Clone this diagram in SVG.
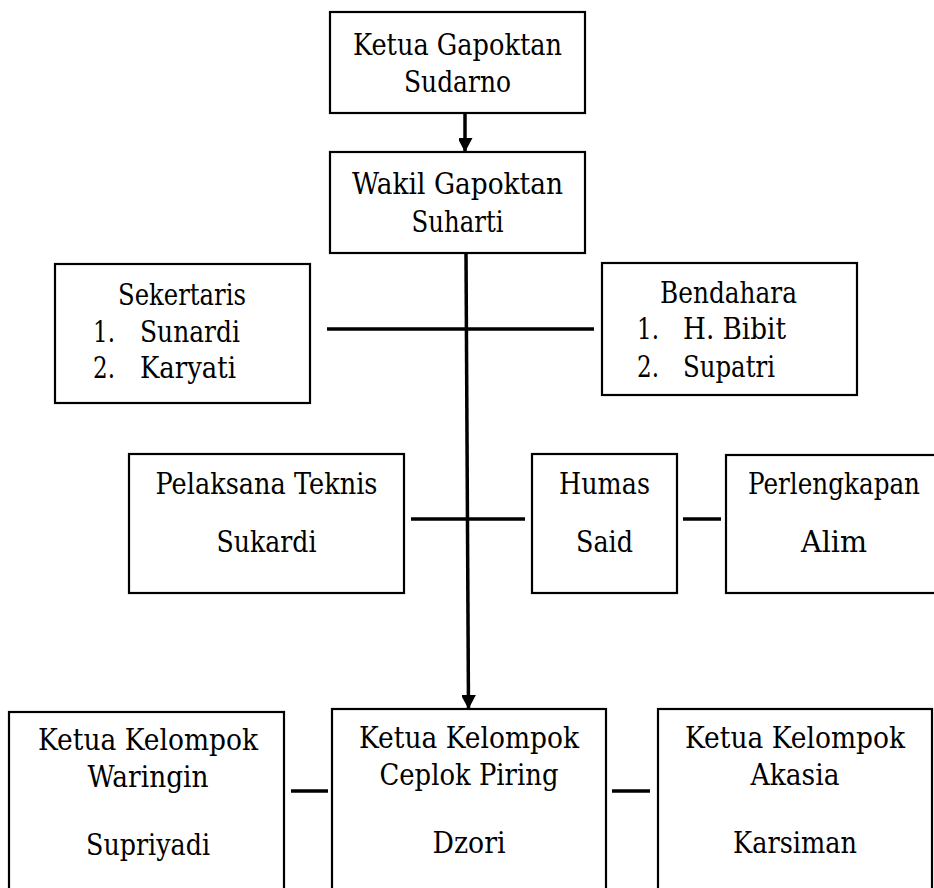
<svg xmlns="http://www.w3.org/2000/svg" width="934" height="888" viewBox="0 0 934 888">
<style>
.box{fill:#fff;stroke:#000;stroke-width:2.2}
.t{font-family:'DejaVu Serif',serif;font-size:29px;fill:#000}
.c{text-anchor:middle}
.ln{stroke:#000;stroke-width:3.5;fill:none}
</style>
<defs>
<marker id="ah" markerWidth="15" markerHeight="14" refX="14" refY="7.5" orient="auto" markerUnits="userSpaceOnUse">
<path d="M0,0 L14,7.5 L0,15 Z" fill="#000"/>
</marker>
</defs>
<rect width="934" height="888" fill="#fff"/>
<g id="connectors">
<line class="ln" x1="465" y1="114" x2="465" y2="152" marker-end="url(#ah)"/>
<line class="ln" x1="466" y1="253" x2="468.5" y2="709" marker-end="url(#ah)"/>
<line class="ln" x1="327" y1="329" x2="594" y2="329"/>
<line class="ln" x1="411" y1="519" x2="525" y2="519"/>
<line class="ln" x1="683" y1="519" x2="721" y2="519"/>
<line class="ln" x1="291" y1="791" x2="328" y2="791"/>
<line class="ln" x1="612" y1="791" x2="650" y2="791"/>
</g>
<g id="ketua">
<rect class="box" x="330" y="12" width="255" height="101"/>
<text class="t c" x="457.5" y="55" textLength="209" lengthAdjust="spacingAndGlyphs">Ketua Gapoktan</text>
<text class="t c" x="457.5" y="92" textLength="107" lengthAdjust="spacingAndGlyphs">Sudarno</text>
</g>
<g id="wakil">
<rect class="box" x="330" y="152" width="255" height="101"/>
<text class="t c" x="457.5" y="194" textLength="211" lengthAdjust="spacingAndGlyphs">Wakil Gapoktan</text>
<text class="t c" x="457.5" y="232" textLength="92" lengthAdjust="spacingAndGlyphs">Suharti</text>
</g>
<g id="sekertaris">
<rect class="box" x="55" y="264" width="255" height="139"/>
<text class="t c" x="182" y="305" textLength="128" lengthAdjust="spacingAndGlyphs">Sekertaris</text>
<text class="t" x="93" y="342" textLength="22" lengthAdjust="spacingAndGlyphs">1.</text>
<text class="t" x="140" y="342" textLength="100" lengthAdjust="spacingAndGlyphs">Sunardi</text>
<text class="t" x="93" y="378" textLength="22" lengthAdjust="spacingAndGlyphs">2.</text>
<text class="t" x="140" y="378" textLength="96" lengthAdjust="spacingAndGlyphs">Karyati</text>
</g>
<g id="bendahara">
<rect class="box" x="602" y="263" width="255" height="132"/>
<text class="t c" x="728.5" y="303" textLength="137" lengthAdjust="spacingAndGlyphs">Bendahara</text>
<text class="t" x="637" y="339" textLength="22" lengthAdjust="spacingAndGlyphs">1.</text>
<text class="t" x="683" y="339" textLength="103" lengthAdjust="spacingAndGlyphs">H. Bibit</text>
<text class="t" x="637" y="377" textLength="22" lengthAdjust="spacingAndGlyphs">2.</text>
<text class="t" x="683" y="377" textLength="92" lengthAdjust="spacingAndGlyphs">Supatri</text>
</g>
<g id="pelaksana">
<rect class="box" x="129" y="454" width="275" height="139"/>
<text class="t c" x="266.5" y="494" textLength="222" lengthAdjust="spacingAndGlyphs">Pelaksana Teknis</text>
<text class="t c" x="266.5" y="552" textLength="100" lengthAdjust="spacingAndGlyphs">Sukardi</text>
</g>
<g id="humas">
<rect class="box" x="532" y="454" width="145" height="139"/>
<text class="t c" x="604.5" y="494" textLength="91" lengthAdjust="spacingAndGlyphs">Humas</text>
<text class="t c" x="604.5" y="552" textLength="57" lengthAdjust="spacingAndGlyphs">Said</text>
</g>
<g id="perlengkapan">
<rect class="box" x="726" y="455" width="210" height="138"/>
<text class="t c" x="834" y="494" textLength="172" lengthAdjust="spacingAndGlyphs">Perlengkapan</text>
<text class="t c" x="834" y="552" textLength="66" lengthAdjust="spacingAndGlyphs">Alim</text>
</g>
<g id="waringin">
<rect class="box" x="9" y="712" width="275" height="200"/>
<text class="t c" x="148" y="750" textLength="220" lengthAdjust="spacingAndGlyphs">Ketua Kelompok</text>
<text class="t c" x="148" y="787" textLength="121" lengthAdjust="spacingAndGlyphs">Waringin</text>
<text class="t c" x="148" y="855" textLength="124" lengthAdjust="spacingAndGlyphs">Supriyadi</text>
</g>
<g id="ceplok">
<rect class="box" x="332" y="709" width="274" height="200"/>
<text class="t c" x="469" y="748" textLength="220" lengthAdjust="spacingAndGlyphs">Ketua Kelompok</text>
<text class="t c" x="469" y="785" textLength="179" lengthAdjust="spacingAndGlyphs">Ceplok Piring</text>
<text class="t c" x="469" y="853" textLength="73" lengthAdjust="spacingAndGlyphs">Dzori</text>
</g>
<g id="akasia">
<rect class="box" x="658" y="709" width="274" height="200"/>
<text class="t c" x="795" y="748" textLength="220" lengthAdjust="spacingAndGlyphs">Ketua Kelompok</text>
<text class="t c" x="795" y="785" textLength="89" lengthAdjust="spacingAndGlyphs">Akasia</text>
<text class="t c" x="795" y="853" textLength="124" lengthAdjust="spacingAndGlyphs">Karsiman</text>
</g>
</svg>
